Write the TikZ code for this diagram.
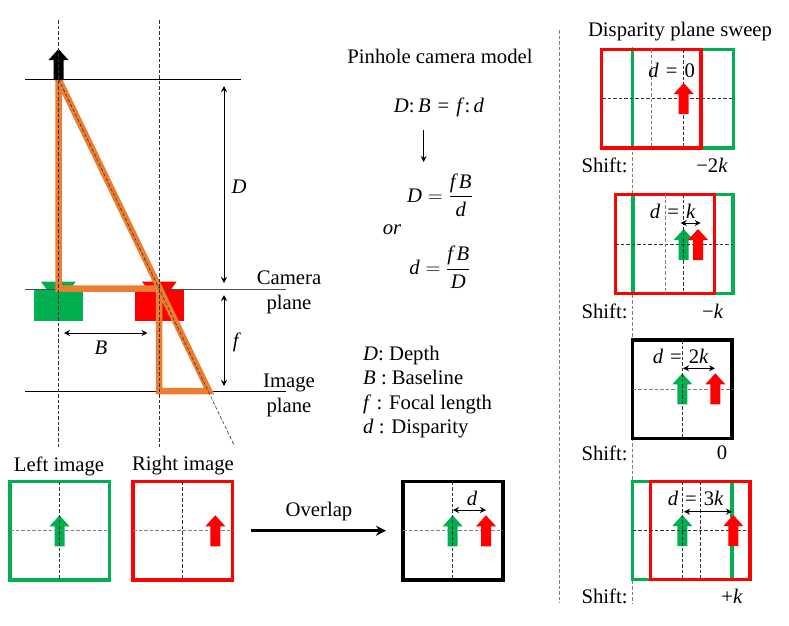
\documentclass[tikz,border=0pt]{standalone}
\usepackage{amsmath}
\usepackage{fontspec}
\setmainfont{Liberation Serif}
\usepackage{tikz}
\usetikzlibrary{arrows.meta}
\definecolor{camgreen}{HTML}{00B050}
\definecolor{camred}{HTML}{FF0000}
\definecolor{rayorange}{HTML}{ED7D31}
\newcommand{\vr}[1]{\textit{#1}}
\newcommand{\eqs}{\hspace{7pt}=\hspace{7pt}}

\begin{document}
\begin{tikzpicture}[x=1pt, y=-1pt,
  every node/.style={inner sep=0pt, font=\fontsize{20.7}{25}\selectfont},
  thinline/.style={line width=0.7pt},
  guide/.style={line width=0.6pt, dashed, dash pattern=on 3.5pt off 2pt, black!80},
  guidegray/.style={line width=0.8pt, dashed, dash pattern=on 3.5pt off 2pt, black!50},
  dim/.style={line width=1pt, {Stealth[length=6pt,width=6pt]}-{Stealth[length=6pt,width=6pt]}},
  greenbox/.style={draw=camgreen, line width=3.3pt},
  redbox/.style={draw=camred, line width=3.3pt},
  blackbox/.style={draw=black, line width=3.5pt},
  uparrow/.pic={\fill[#1] (0,0) -- (10,11) -- (5,11) -- (5,31) -- (-5,31) -- (-5,11) -- (-10,11) -- cycle;}]
  \useasboundingbox (0,0) rectangle (789,625);

  % cameras
  \fill[camgreen] (34,289.5) rectangle (82.5,321);
  \fill[camgreen] (41,281.7) -- (75.7,281.7) -- (70,289.5) -- (46.7,289.5) -- cycle;
  \fill[camred] (135,289.5) rectangle (183.5,321);
  \fill[camred] (142,281.7) -- (176.5,281.7) -- (171,289.5) -- (148,289.5) -- cycle;

  % optical axes and planes
  \coordinate (axLtop) at (58.5,20);
  \coordinate (axLbot) at (58.5,447);
  \coordinate (axRtop) at (159,20);
  \coordinate (axRbot) at (159,447);
  \coordinate (objL) at (25,79);
  \coordinate (objR) at (241,79);
  \coordinate (camL) at (25,289.5);
  \coordinate (camR) at (286,289.5);
  \coordinate (imgL) at (25,391.5);
  \coordinate (imgR) at (286,391.5);
  \draw[thinline] (objL) -- (objR);
  \draw[thinline, black!70] (camL) -- (camR);
  \draw[thinline] (imgL) -- (imgR);

  % similar triangles
  \coordinate (tA) at (58.5,79);
  \coordinate (tB) at (58.5,288.5);
  \coordinate (tC) at (159,288.5);
  \coordinate (tE) at (159,391);
  \coordinate (tF) at (209,391);
  \coordinate (rayEnd) at (234.5,446);
  \draw[rayorange, line width=6.5pt, miter limit=2] (tA) -- (tB) -- (tC) -- (tE) -- (tF) -- cycle;
  \pic at (58.5,49) {uparrow=black};
  \draw[guide] (axLtop) -- (axLbot);
  \draw[guide] (axRtop) -- (axRbot);
  \draw[guide] (tA) -- (rayEnd);

  % dimensions
  \coordinate (Dtop) at (224,86);
  \coordinate (Dbot) at (224,283);
  \coordinate (ftop) at (224,295);
  \coordinate (fbot) at (224,386);
  \coordinate (Bl) at (64,333);
  \coordinate (Br) at (147.5,333);
  \draw[dim] (Dtop) -- (Dbot);
  \draw[dim] (ftop) -- (fbot);
  \draw[dim] (Bl) -- (Br);
  \node (Dlab) at (239,187) {\vr{D}};
  \node (flab) at (237,342) {\vr{f}};
  \node (Blab) at (101,348) {\vr{B}};
  \node (camlab) [align=center] at (289,292.5) {Camera\\plane};
  \node (imglab) [align=center] at (289,395) {Image\\plane};

  % formulas
  \node (title) at (440,56) {Pinhole camera model};
  \node (ratio) at (439,107) {\vr{D}:\,\vr{B}\eqs\vr{f}:\,\vr{d}};
  \coordinate (ratioTop) at (423.7,130);
  \coordinate (ratioBot) at (423.7,162);
  \draw[line width=1pt, -{Stealth[length=6pt,width=6pt]}] (ratioTop) -- (ratioBot);
  \node (eqD) at (440,195) {$\vr{D} = \dfrac{\vr{f}\,\vr{B}}{\vr{d}}$};
  \node (eqor) at (392,230) {\vr{or}};
  \node (eqd) at (440,267) {$\vr{d} = \dfrac{\vr{f}\,\vr{B}}{\vr{D}}$};
  \node (legD) [anchor=base west] at (363,360) {\vr{D}: Depth};
  \node (legB) [anchor=base west] at (363,384.5) {\vr{B} : Baseline};
  \node (legf) [anchor=base west] at (363,409) {\vr{f} : Focal length};
  \node (legd) [anchor=base west] at (363,433.5) {\vr{d} : Disparity};

  % left and right images
  \node (lefttitle) at (59,466) {Left image};
  \node (righttitle) at (183,466) {Right image};
  \draw[greenbox] (10,481.7) rectangle (109.5,580);
  \pic at (59.5,515.3) {uparrow=camgreen};
  \draw[guidegray] (10,530.7) -- (109.5,530.7);
  \draw[guide] (59.5,481.7) -- (59.5,580);
  \draw[redbox] (133,481.7) rectangle (232.5,580);
  \draw[guidegray] (133,530.7) -- (232.5,530.7);
  \draw[guide] (182.5,481.7) -- (182.5,580);
  \pic at (215.3,515.3) {uparrow=camred};

  % overlap
  \coordinate (ovL) at (251,530.7);
  \coordinate (ovR) at (386,530.7);
  \draw[line width=2.8pt, -{Stealth[length=10pt,width=10pt]}] (ovL) -- (ovR);
  \node (ovlab) at (319,512) {Overlap};
  \draw[blackbox] (403,481.7) rectangle (503,580);
  \pic at (452.7,515.3) {uparrow=camgreen};
  \draw[guidegray] (403,530.7) -- (503,530.7);
  \draw[guide] (452.7,481.7) -- (452.7,580);
  \pic at (486,515.3) {uparrow=camred};
  \coordinate (ovdL) at (453,510);
  \coordinate (ovdR) at (486,510);
  \draw[dim] (ovdL) -- (ovdR);
  \node (ovd) at (472,498) {\vr{d}};

  % sweep column
  \node (sweeptitle) at (680,32) {Disparity plane sweep};
  \coordinate (sepTop) at (559,30);
  \coordinate (sepBot) at (559,603);
  \coordinate (zeroTop) at (632,47);
  \coordinate (zeroBot) at (632,603);
  \draw[guidegray] (sepTop) -- (sepBot);
  \draw[guidegray] (zeroTop) -- (zeroBot);

  % shift -2k
  \draw[greenbox] (632.7,49.3) rectangle (733.5,148);
  \draw[redbox] (601.7,49.3) rectangle (701,148);
  \draw[guide] (602,98.7) -- (733.5,98.7);
  \draw[guide] (683.7,49.3) -- (683.7,148);
  \draw[guidegray] (651,49.3) -- (651,148);
  \pic at (683.7,83) {uparrow=camred};
  \node (da) at (671.7,70) {\vr{d}\eqs 0};
  \node (shiftA) at (604.5,165) {Shift:};
  \node (valA) at (712,165) {−2\vr{k}};

  % shift -k
  \draw[greenbox] (633,194.3) rectangle (733,293.7);
  \draw[redbox] (615.3,194.3) rectangle (714.7,293.7);
  \pic at (683.7,229) {uparrow=camgreen};
  \draw[guide] (615.3,244.3) -- (733,244.3);
  \draw[guide] (683.7,194.3) -- (683.7,293.7);
  \draw[guidegray] (665,194.3) -- (665,293.7);
  \pic at (698,229) {uparrow=camred};
  \coordinate (dbL) at (680.7,223);
  \coordinate (dbR) at (700.7,223);
  \draw[dim] (dbL) -- (dbR);
  \node (db) at (672.7,211) {\vr{d}\eqs\vr{k}};
  \node (shiftB) at (604.5,311.7) {Shift:};
  \node (valB) at (712.7,311.7) {−\vr{k}};

  % shift 0
  \draw[blackbox] (632.7,340) rectangle (732,438.3);
  \pic at (682.3,373.3) {uparrow=camgreen};
  \draw[guidegray] (632.7,389) -- (732,389);
  \draw[guide] (682.3,340) -- (682.3,438.3);
  \pic at (715.3,373.3) {uparrow=camred};
  \coordinate (dcL) at (683,368.3);
  \coordinate (dcR) at (715,368.3);
  \draw[dim] (dcL) -- (dcR);
  \node (dc) at (680.7,356.5) {\vr{d}\eqs 2\vr{k}};
  \node (shiftC) at (604.5,453) {Shift:};
  \node (valC) at (722,453) {0};

  % shift +k
  \draw[greenbox] (632.7,481.7) rectangle (732,579.7);
  \draw[redbox] (650.3,481.7) rectangle (750,579.7);
  \pic at (682.3,515) {uparrow=camgreen};
  \draw[guide] (632.7,530.3) -- (750,530.3);
  \draw[guide] (682.3,481.7) -- (682.3,579.7);
  \draw[guide] (700.3,481.7) -- (700.3,579.7);
  \pic at (733.3,515) {uparrow=camred};
  \coordinate (ddL) at (684,511.7);
  \coordinate (ddR) at (732,511.7);
  \draw[dim] (ddL) -- (ddR);
  \node (dd) at (695.7,498.3) {\vr{d}\eqs 3\vr{k}};
  \node (shiftD) at (604.5,596) {Shift:};
  \node (valD) at (732,596) {+\vr{k}};
\end{tikzpicture}
\end{document}
